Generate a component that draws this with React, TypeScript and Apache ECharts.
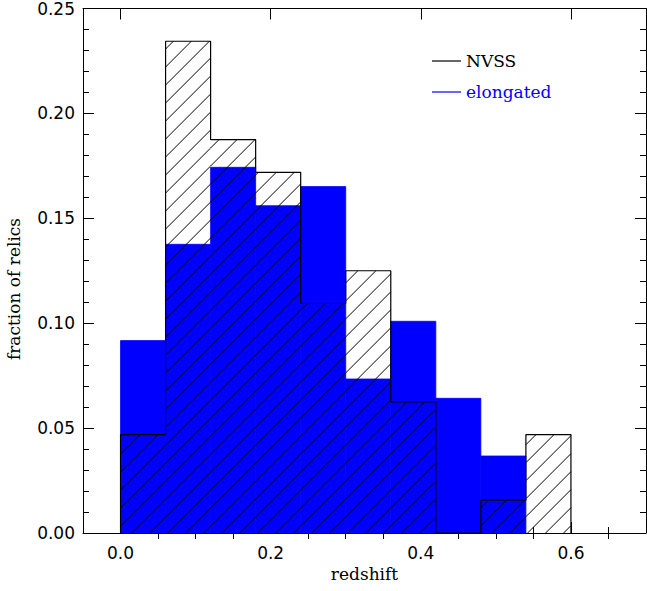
import React, { useEffect, useRef } from "react";
import * as echarts from "echarts";

// ---- data ----
const binStarts = [0.0, 0.06, 0.12, 0.18, 0.24, 0.3, 0.36, 0.42, 0.48, 0.54];
const binWidth = 0.06;
const nvss = [0.0469, 0.2344, 0.1875, 0.1719, 0.1094, 0.125, 0.0625, 0.0, 0.0156, 0.0469];
const elongated = [0.0917, 0.1376, 0.1743, 0.156, 0.1651, 0.0734, 0.1009, 0.0642, 0.0367, 0.0];
const xMajorTicks = [0.0, 0.2, 0.4, 0.6];
const xMinorTicks = [0.05, 0.1, 0.15, 0.25, 0.3, 0.35, 0.45, 0.5, 0.55, 0.65];
const seriesNames = ["NVSS", "elongated"];
const xName = "redshift";
const yName = "fraction of relics";

const HATCH_STEP = 18;
const HATCH_PHASE = 16.6;
const BLUE = "#0000ff";
const SANS = "DejaVu Sans";
const SERIF = "DejaVu Serif";

export default function App() {
  const ref = useRef<HTMLDivElement>(null);

  useEffect(() => {
    if (!ref.current) return;
    const chart = echarts.init(ref.current, undefined, { renderer: "svg" });

    const blueData = binStarts.map((s, i) => [s, s + binWidth, elongated[i]]);
    const nvssData = binStarts.map((s, i) => [s, s + binWidth, nvss[i]]);
    const stepData: number[][] = [];
    binStarts.forEach((s, i) => {
      if (i === 0) stepData.push([s, 0]);
      stepData.push([s, nvss[i]]);
      stepData.push([s + binWidth, nvss[i]]);
    });
    stepData.push([binStarts[binStarts.length - 1] + binWidth, 0]);

    const black = "#000";
    const xBase = {
      type: "value",
      min: -0.05,
      max: 0.7,
      gridIndex: 0,
      splitLine: { show: false },
      axisLine: { show: true, onZero: false, lineStyle: { color: black, width: 1 } },
    };

    const option: any = {
      animation: false,
      backgroundColor: "#fff",
      grid: { left: 83, top: 5, width: 563, height: 528, containLabel: false },
      legend: {
        orient: "vertical",
        left: 432,
        top: 51,
        padding: 0,
        icon: "rect",
        itemWidth: 29,
        itemHeight: 1.2,
        itemGap: 11,
        selectedMode: false,
        textStyle: { fontFamily: SERIF, fontSize: 17, lineHeight: 20 },
        data: [
          { name: seriesNames[0], itemStyle: { color: black }, textStyle: { color: black } },
          { name: seriesNames[1], itemStyle: { color: BLUE }, textStyle: { color: BLUE } },
        ],
      },
      xAxis: [
        {
          ...xBase,
          position: "bottom",
          name: xName,
          nameLocation: "middle",
          nameGap: 27,
          nameTextStyle: { fontFamily: SERIF, fontSize: 17, color: black },
          axisTick: { show: true, inside: true, length: 11, customValues: xMajorTicks, lineStyle: { color: black } },
          axisLabel: {
            show: true,
            customValues: xMajorTicks,
            formatter: (v: number) => v.toFixed(1),
            margin: 11,
            fontFamily: SANS,
            fontSize: 17,
            color: black,
          },
        },
        {
          ...xBase,
          position: "bottom",
          axisLine: { show: false },
          axisTick: { show: true, inside: true, length: 6, customValues: xMinorTicks, lineStyle: { color: black } },
          axisLabel: { show: false },
        },
        {
          ...xBase,
          position: "top",
          axisTick: { show: true, inside: true, length: 11, customValues: xMajorTicks, lineStyle: { color: black } },
          axisLabel: { show: false },
        },
        {
          ...xBase,
          position: "top",
          axisLine: { show: false },
          axisTick: { show: true, inside: true, length: 6, customValues: xMinorTicks, lineStyle: { color: black } },
          axisLabel: { show: false },
        },
      ],
      yAxis: [
        {
          type: "value",
          min: 0,
          max: 0.25,
          interval: 0.05,
          position: "left",
          splitLine: { show: false },
          axisLine: { show: true, onZero: false, lineStyle: { color: black, width: 1 } },
          axisTick: { show: true, inside: true, length: 11, lineStyle: { color: black } },
          minorTick: { show: true, splitNumber: 5, length: 6, lineStyle: { color: black } },
          axisLabel: {
            formatter: (v: number) => v.toFixed(2),
            margin: 8,
            fontFamily: SANS,
            fontSize: 17,
            color: black,
          },
        },
        {
          type: "value",
          min: 0,
          max: 0.25,
          interval: 0.05,
          position: "right",
          splitLine: { show: false },
          axisLine: { show: true, onZero: false, lineStyle: { color: black, width: 1 } },
          axisTick: { show: true, inside: true, length: 11, lineStyle: { color: black } },
          minorTick: { show: true, splitNumber: 5, length: 6, lineStyle: { color: black } },
          axisLabel: { show: false },
        },
      ],
      graphic: [
        {
          type: "text",
          x: 14,
          y: 289,
          rotation: Math.PI / 2,
          style: {
            text: yName,
            fontFamily: SERIF,
            fontSize: 17,
            fill: black,
            align: "center",
            verticalAlign: "middle",
          },
        },
      ],
      series: [
        {
          name: seriesNames[1],
          type: "custom",
          xAxisIndex: 0,
          yAxisIndex: 0,
          silent: true,
          z: 1,
          itemStyle: { color: BLUE },
          encode: { x: [0, 1], y: 2 },
          data: blueData,
          renderItem: (_params: any, api: any) => {
            const v = api.value(2);
            if (!(v > 0)) return null;
            const tl = api.coord([api.value(0), v]);
            const br = api.coord([api.value(1), 0]);
            return {
              type: "rect",
              shape: { x: tl[0], y: tl[1], width: br[0] - tl[0], height: br[1] - tl[1] },
              style: { fill: BLUE, stroke: BLUE, lineWidth: 0.8 },
            };
          },
        },
        {
          name: seriesNames[0],
          type: "custom",
          xAxisIndex: 0,
          yAxisIndex: 0,
          silent: true,
          z: 2,
          itemStyle: { color: black },
          encode: { x: [0, 1], y: 2 },
          data: nvssData,
          renderItem: (_params: any, api: any) => {
            const v = api.value(2);
            if (!(v > 0)) return null;
            const tl = api.coord([api.value(0), v]);
            const br = api.coord([api.value(1), 0]);
            const L = tl[0], T = tl[1], R = br[0], B = br[1];
            const children: any[] = [];
            const kStart = Math.ceil((L + T - HATCH_PHASE) / HATCH_STEP);
            for (let k = kStart; k < kStart + 200; k++) {
              const c = HATCH_PHASE + k * HATCH_STEP;
              if (c >= R + B) break;
              const xs = Math.max(L, c - B);
              const xe = Math.min(R, c - T);
              if (xe <= xs) continue;
              children.push({
                type: "line",
                shape: { x1: xs, y1: c - xs, x2: xe, y2: c - xe },
                style: { stroke: black, lineWidth: 1 },
              });
            }
            return { type: "group", children };
          },
        },
        {
          name: seriesNames[0],
          type: "line",
          xAxisIndex: 0,
          yAxisIndex: 0,
          silent: true,
          z: 3,
          symbol: "none",
          lineStyle: { color: black, width: 1.2 },
          itemStyle: { color: black },
          data: stepData,
        },
      ],
    };

    chart.setOption(option);
    return () => chart.dispose();
  }, []);

  return (
    <div
      ref={ref}
      style={{ position: "absolute", left: 0, top: 0, width: 647, height: 591 }}
    />
  );
}
